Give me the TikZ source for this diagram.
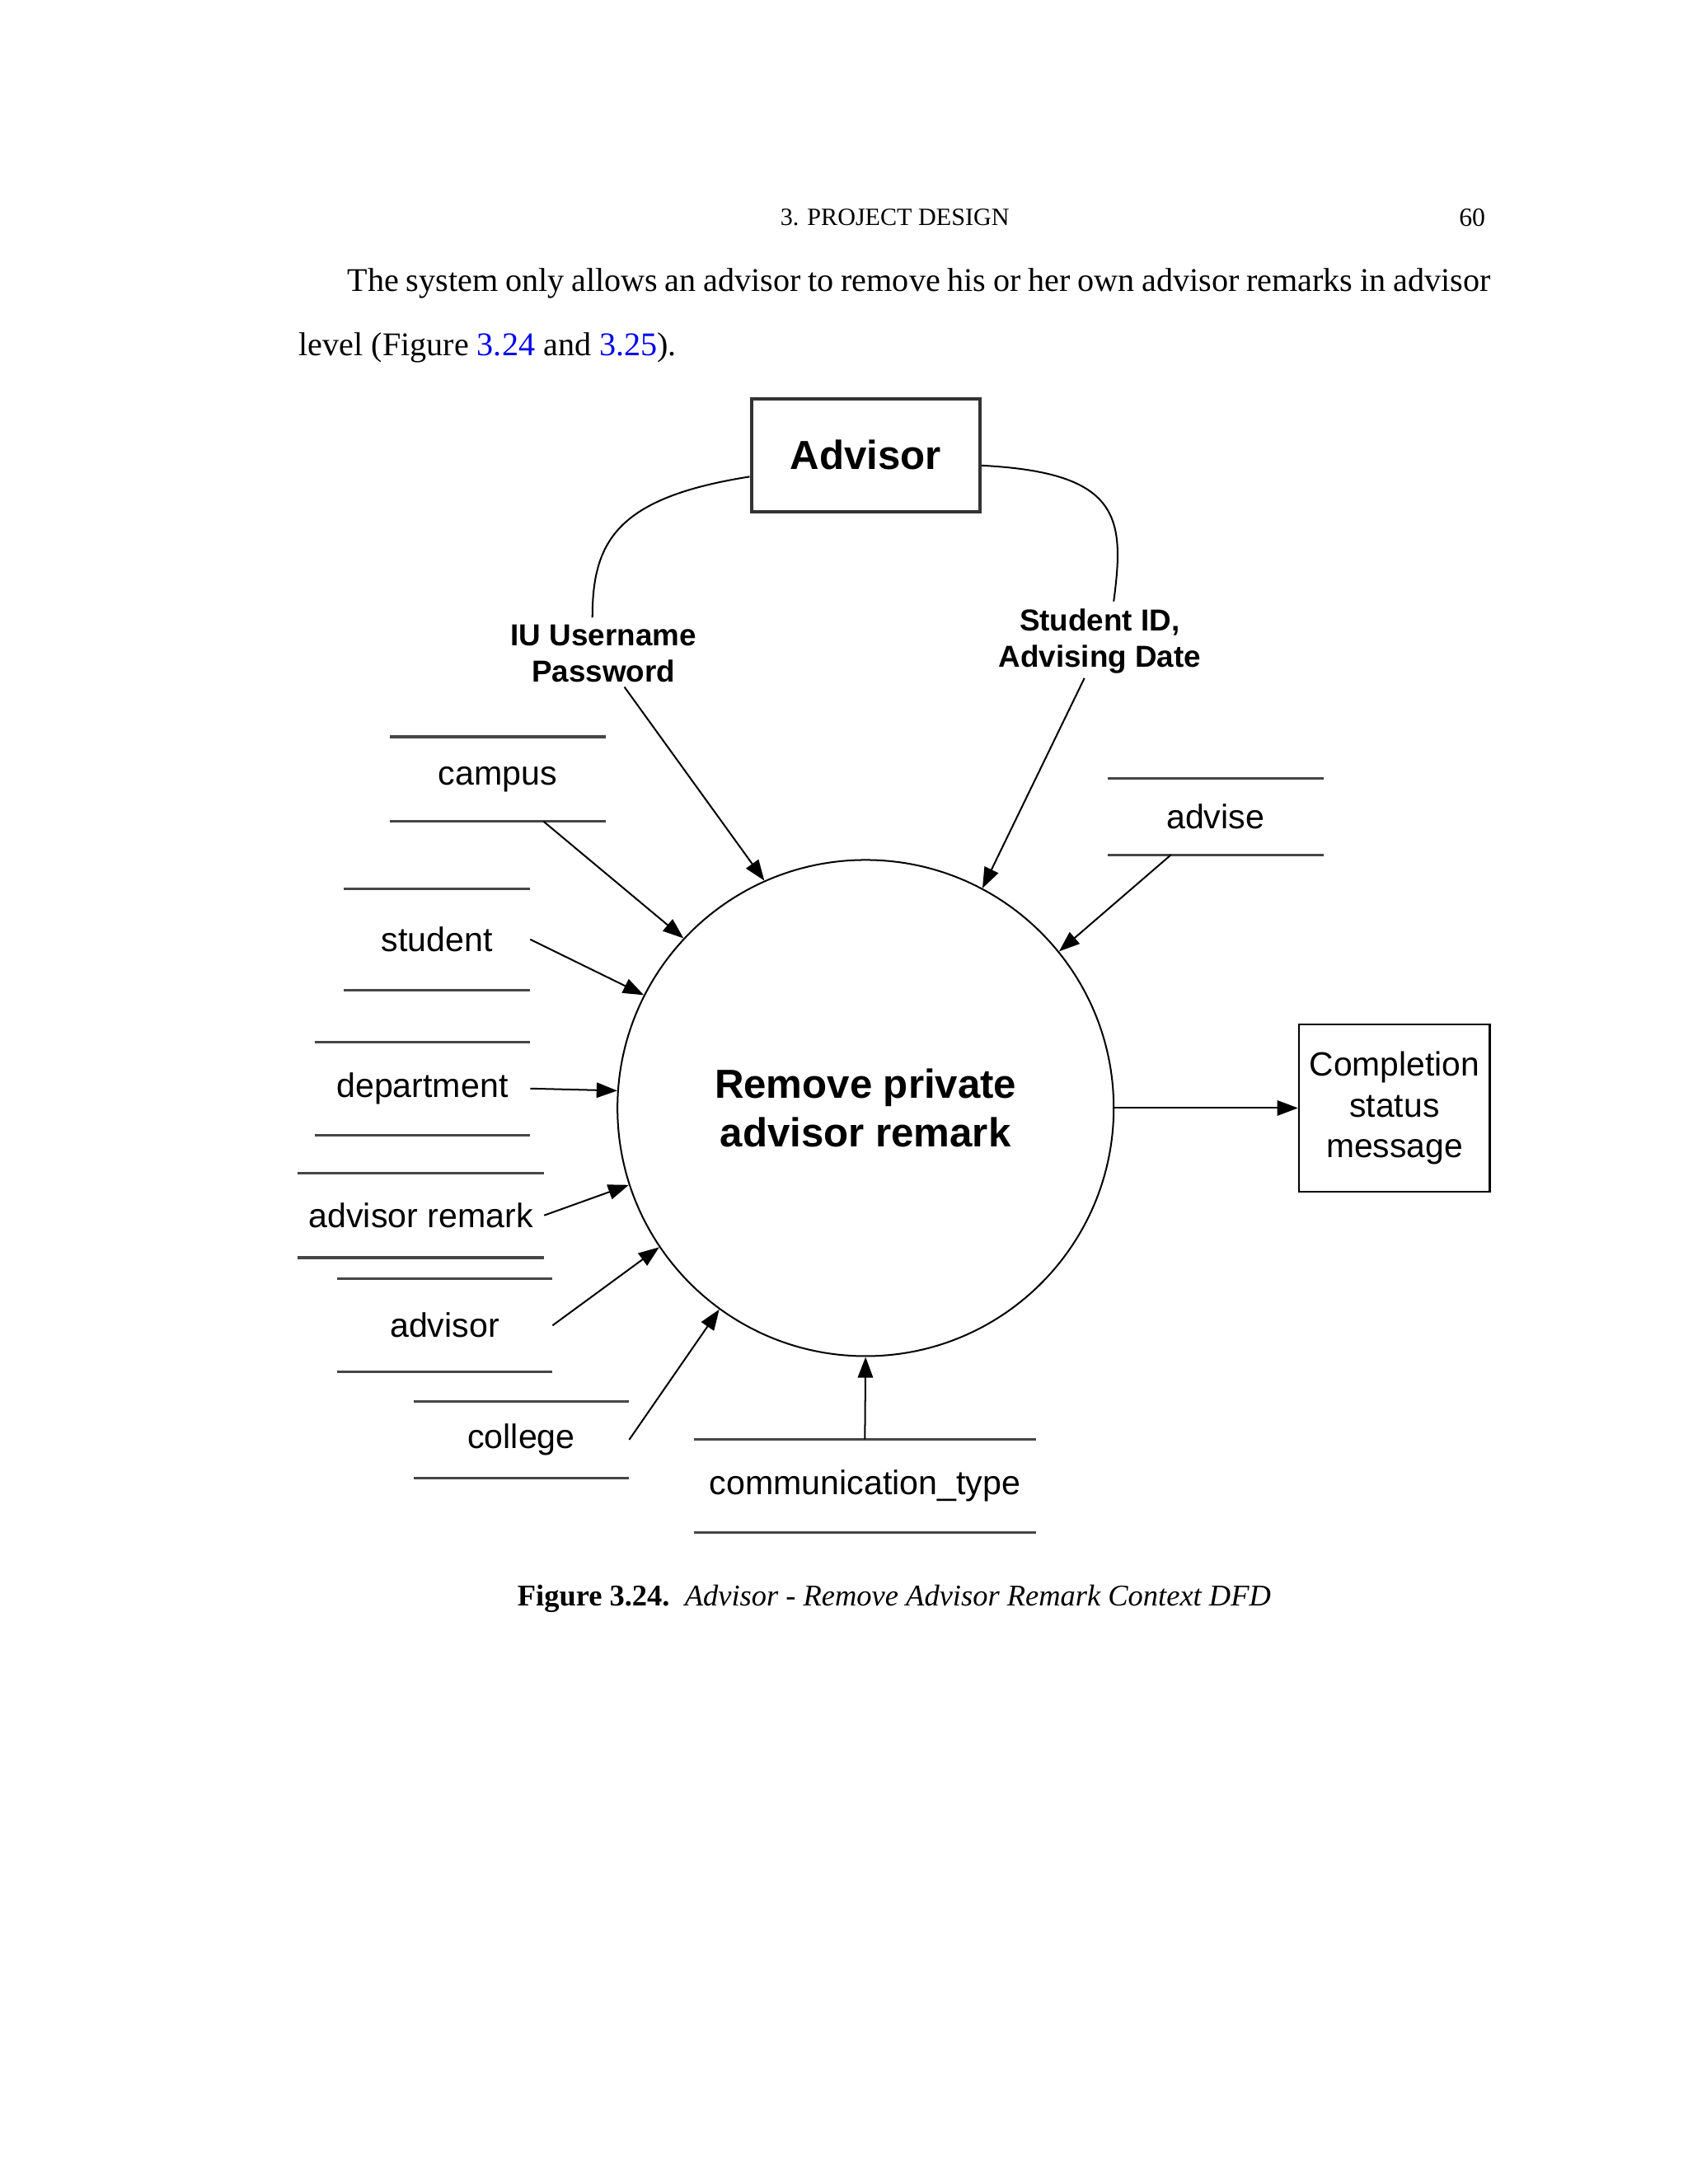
\documentclass[tikz,border=0pt]{standalone}
\usepackage{fontspec}
\setmainfont{Liberation Serif}
\newfontfamily\dfdfont{Liberation Sans}
\usetikzlibrary{arrows.meta,calc}
\definecolor{linkblue}{RGB}{0,0,238}
\definecolor{storegray}{RGB}{70,70,70}
\newcommand{\dpx}{0.50537pt}

\begin{document}
\begin{tikzpicture}[x = 0.50537pt, y = -0.50537pt]
        \tikzset{EntityStyle/.style = {draw, line width = 0.8pt, inner sep = 0pt,
            align = center},
          ProcStyle/.style = {draw, circle, line width = 0.6pt, inner sep = 0pt,
            minimum size = 356*\dpx, align = center,
            font = \dfdfont\bfseries\fontsize{14.7}{17.7}\selectfont},
          StoreStyle/.style = {inner sep = 0pt,
            font = \dfdfont\fontsize{12.3}{14}\selectfont},
          LabelStyle/.style = {inner sep = 1.5pt, align = center,
            font = \dfdfont\bfseries\fontsize{11}{13.1}\selectfont},
          FlowStyle/.style = {-{Triangle[length = 7.5pt, width = 5.5pt]},
            line width = 0.6pt},
          PageStyle/.style = {inner sep = 0pt,
            font = \fontsize{12}{14}\selectfont}}
        \path[fill = white, use as bounding box] (0,0) rectangle (1211,1567);
        \node[PageStyle, font = \fontsize{9}{11}\selectfont] (HEAD) at (642,156) {3. PROJECT DESIGN};
        \node[PageStyle, font = \fontsize{9.5}{11}\selectfont, anchor = east] (PNUM) at (1066,156) {60};
        \node[PageStyle, anchor = west] (PAR1) at (249,203.5)
          {\makebox[414.4pt][s]{The system only allows an advisor to remove his or her own advisor remarks in advisor}};
        \node[PageStyle, anchor = west] (PAR2) at (214,249.5)
          {level (Figure \textcolor{linkblue}{3.24} and \textcolor{linkblue}{3.25}).};
        \node[EntityStyle, line width = 1.2pt, draw = black!80, minimum width = 164*\dpx,
          minimum height = 81*\dpx, font = \dfdfont\bfseries\fontsize{14.7}{17.7}\selectfont]
          (ADV) at (621,326.5) {Advisor};
        \node[ProcStyle] (PRC) at (621,795) {Remove private\\advisor remark};
        \node[EntityStyle, minimum width = 137*\dpx, minimum height = 120*\dpx,
          font = \dfdfont\fontsize{12.2}{14.9}\selectfont]
          (CSM) at (1000.5,795) {Completion\\status\\message};
        \node[LabelStyle] (IUP) at (433,469) {IU Username\\Password};
        \node[LabelStyle] (SID) at (789,460) {Student ID,\\Advising Date};
        \node[StoreStyle, minimum width = 154*\dpx, minimum height = 60*\dpx] (CMP) at (357,559) {campus};
        \node[StoreStyle, minimum width = 154*\dpx, minimum height = 54*\dpx] (ADS) at (872,586) {advise};
        \node[StoreStyle, minimum width = 133*\dpx, minimum height = 72*\dpx] (STU) at (313.5,674) {student};
        \node[StoreStyle, minimum width = 154*\dpx, minimum height = 66*\dpx] (DEP) at (303,781) {department};
        \node[StoreStyle, minimum width = 176*\dpx, minimum height = 60*\dpx] (ARM) at (302,872) {advisor remark};
        \node[StoreStyle, minimum width = 154*\dpx, minimum height = 66*\dpx] (ADR) at (319,951) {advisor};
        \node[StoreStyle, minimum width = 154*\dpx, minimum height = 54*\dpx] (COL) at (374,1033) {college};
        \node[StoreStyle, minimum width = 245*\dpx, minimum height = 66*\dpx] (COM) at (620.5,1066) {communication\_type};
        \node[PageStyle, font = \fontsize{10.9}{13}\selectfont] (CAP) at (641.5,1147)
          {\textbf{Figure 3.24.}\ \ \textit{Advisor - Remove Advisor Remark Context DFD}};
        \foreach \s in {CMP,ADS,STU,DEP,ARM,ADR,COL,COM}
          \draw[storegray, line width = 1pt] (\s.north west) -- (\s.north east)
            (\s.south west) -- (\s.south east);
        \draw[line width = 0.6pt] ($(ADV.west)+(0,15.5)$) .. controls +(-95,15) and +(0,-55) .. ($(IUP.north)+(-8,-2)$);
        \draw[line width = 0.6pt] ($(ADV.east)+(0,7.5)$) .. controls +(100,5) and +(8,-60) .. ($(SID.north)+(10,-2)$);
        \draw[FlowStyle] ($(IUP.south)+(15,0)$) -- (PRC.114.8);
        \draw[FlowStyle] ($(SID.south)+(-11,0)$) -- (PRC.62.1);
        \draw[FlowStyle] ($(CMP.south)+(33,0)$) -- (PRC.137.9);
        \draw[FlowStyle] ($(ADS.south)+(-32,0)$) -- (PRC.39.4);
        \draw[FlowStyle] (STU.east) -- (PRC.153.6);
        \draw[FlowStyle] (DEP.east) -- (PRC.176.8);
        \draw[FlowStyle] (ARM.east) -- (PRC.198.6);
        \draw[FlowStyle] (ADR.east) -- (PRC.214.8);
        \draw[FlowStyle] (COL.east) -- (PRC.234.5);
        \draw[FlowStyle] (COM.north) -- (PRC.south);
        \draw[FlowStyle] (PRC.east) -- (CSM.west);
      \end{tikzpicture}
\end{document}
